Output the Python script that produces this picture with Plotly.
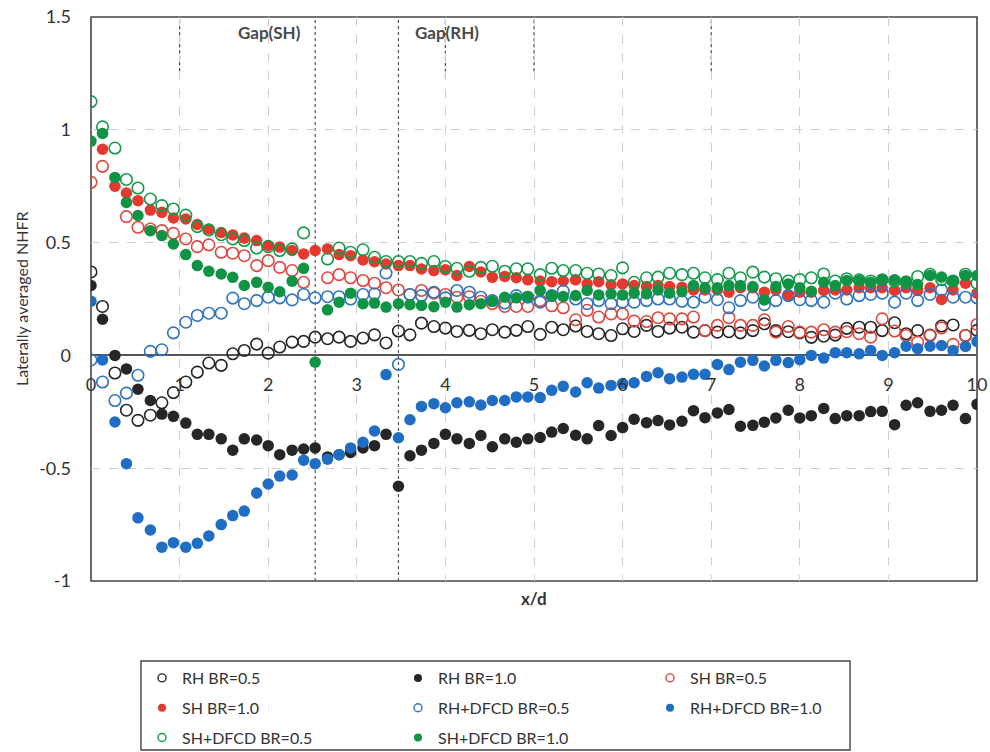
import plotly.graph_objects as go

# x/d stations (76 points, step ~0.133)
X = [0.0, 0.13, 0.27, 0.4, 0.53, 0.67, 0.8, 0.93, 1.07, 1.2, 1.33, 1.47, 1.6, 1.73, 1.87, 2.0,
     2.13, 2.27, 2.4, 2.53, 2.67, 2.8, 2.93, 3.07, 3.2, 3.33, 3.47, 3.6, 3.73, 3.87, 4.0, 4.13,
     4.27, 4.4, 4.53, 4.67, 4.8, 4.93, 5.07, 5.2, 5.33, 5.47, 5.6, 5.73, 5.87, 6.0, 6.13, 6.27,
     6.4, 6.53, 6.67, 6.8, 6.93, 7.07, 7.2, 7.33, 7.47, 7.6, 7.73, 7.87, 8.0, 8.13, 8.27, 8.4,
     8.53, 8.67, 8.8, 8.93, 9.07, 9.2, 9.33, 9.47, 9.6, 9.73, 9.87, 10.0]

RH_05 = [0.37, 0.217, -0.078, -0.243, -0.288, -0.265, -0.21, -0.165, -0.118, -0.074, -0.034, -0.044,
         0.007, 0.022, 0.05, 0.01, 0.037, 0.059, 0.062, 0.081, 0.074, 0.081, 0.062, 0.077, 0.091, 0.055,
         0.108, 0.091, 0.143, 0.128, 0.121, 0.106, 0.111, 0.096, 0.114, 0.103, 0.111, 0.128, 0.093, 0.125,
         0.114, 0.13, 0.106, 0.096, 0.088, 0.118, 0.106, 0.133, 0.106, 0.121, 0.125, 0.103, 0.11, 0.103,
         0.105, 0.1, 0.11, 0.14, 0.11, 0.105, 0.1, 0.08, 0.085, 0.09, 0.12, 0.125, 0.125, 0.11, 0.145,
         0.096, 0.11, 0.09, 0.13, 0.135, 0.088, 0.111]

RH_10 = [0.31, 0.16, 0.0, -0.06, -0.15, -0.2, -0.26, -0.27, -0.3, -0.35, -0.35, -0.37, -0.42, -0.37,
         -0.375, -0.4, -0.44, -0.42, -0.415, -0.41, -0.45, -0.44, -0.43, -0.41, -0.4, -0.35, -0.58, -0.445,
         -0.42, -0.39, -0.35, -0.37, -0.39, -0.355, -0.405, -0.37, -0.385, -0.37, -0.364, -0.34, -0.324,
         -0.354, -0.37, -0.311, -0.355, -0.32, -0.283, -0.298, -0.289, -0.308, -0.292, -0.245, -0.276,
         -0.255, -0.24, -0.314, -0.31, -0.296, -0.277, -0.243, -0.277, -0.267, -0.235, -0.28, -0.267,
         -0.267, -0.249, -0.248, -0.307, -0.221, -0.21, -0.248, -0.243, -0.221, -0.28, -0.217]

SH_05 = [0.767, 0.838, None, 0.615, 0.568, 0.56, 0.553, 0.541, 0.516, 0.482, 0.49, 0.457, 0.453, 0.442,
         0.398, 0.42, 0.39, 0.376, 0.324, None, 0.344, 0.358, 0.344, 0.332, 0.32, 0.3, 0.29, 0.27, 0.288,
         0.276, 0.27, 0.258, 0.26, 0.24, 0.23, 0.217, 0.217, 0.217, 0.243, 0.22, 0.211, 0.158, 0.2, 0.17,
         0.184, 0.184, 0.152, 0.15, 0.167, 0.162, 0.162, 0.17, 0.11, 0.133, 0.167, 0.133, 0.133, 0.158,
         0.103, 0.128, 0.103, 0.103, 0.114, 0.103, 0.105, 0.096, 0.081, 0.162, 0.108, 0.088, 0.059, 0.088,
         0.122, 0.049, 0.088, 0.137]

SH_10 = [None, 0.914, 0.75, 0.72, 0.686, 0.644, 0.634, 0.609, 0.605, 0.58, 0.56, 0.545, 0.534, 0.52,
         0.509, 0.487, 0.48, 0.465, 0.45, 0.465, 0.472, 0.447, 0.442, 0.423, 0.415, 0.405, 0.398, 0.398,
         0.383, 0.376, 0.38, 0.354, 0.394, 0.37, 0.346, 0.35, 0.344, 0.335, 0.33, 0.327, 0.33, 0.335,
         0.317, 0.327, 0.313, 0.317, 0.31, 0.305, 0.31, 0.305, 0.302, 0.29, 0.29, 0.29, 0.28, 0.3, 0.3,
         0.28, 0.29, 0.268, 0.28, 0.28, 0.288, 0.29, 0.29, 0.3, 0.3, 0.3, 0.288, 0.3, 0.288, 0.3, 0.248,
         0.29, 0.32, 0.276]

RHD_05 = [-0.02, -0.118, -0.2, -0.167, -0.088, 0.018, 0.025, 0.1, 0.147, 0.177, 0.187, 0.187, 0.254,
          0.229, 0.243, 0.258, 0.255, 0.246, 0.27, 0.255, 0.26, 0.26, 0.25, 0.27, 0.273, 0.365, -0.04,
          0.27, 0.265, 0.28, 0.255, 0.288, 0.28, 0.258, 0.243, 0.232, 0.265, 0.258, 0.236, 0.265, 0.285,
          0.25, 0.229, 0.243, 0.229, 0.236, 0.236, 0.243, 0.25, 0.25, 0.24, 0.236, 0.258, 0.247, 0.211,
          0.243, 0.258, 0.225, 0.243, 0.265, 0.247, 0.243, 0.236, 0.276, 0.25, 0.265, 0.27, 0.276, 0.236,
          0.276, 0.243, 0.27, 0.29, 0.258, 0.258, 0.255]

RHD_10 = [0.24, -0.02, -0.295, -0.48, -0.72, -0.774, -0.85, -0.83, -0.85, -0.833, -0.8, -0.75, -0.71,
          -0.69, -0.61, -0.57, -0.535, -0.53, -0.465, -0.48, -0.46, -0.44, -0.41, -0.385, -0.335, -0.085,
          -0.365, -0.285, -0.226, -0.214, -0.232, -0.21, -0.206, -0.22, -0.2, -0.2, -0.184, -0.184, -0.187,
          -0.155, -0.137, -0.162, -0.121, -0.145, -0.133, -0.125, -0.121, -0.093, -0.077, -0.103, -0.096,
          -0.084, -0.084, -0.04, -0.063, -0.03, -0.022, -0.047, -0.022, -0.032, -0.019, 0.0, -0.012, 0.012,
          0.012, 0.007, 0.022, 0.0, 0.012, 0.041, 0.03, 0.041, 0.044, 0.022, 0.04, 0.062]

SHD_05 = [1.125, 1.013, 0.919, 0.78, 0.742, 0.693, 0.664, 0.649, 0.622, 0.571, 0.556, 0.535, 0.516, 0.509,
          0.476, 0.482, 0.465, 0.472, 0.543, None, 0.427, 0.476, 0.457, 0.468, 0.435, 0.416, 0.416, 0.416,
          0.408, 0.416, 0.394, 0.386, 0.373, 0.39, 0.395, 0.373, 0.384, 0.384, 0.358, 0.386, 0.376, 0.376,
          0.364, 0.361, 0.354, 0.388, 0.324, 0.344, 0.347, 0.364, 0.358, 0.364, 0.344, 0.336, 0.364, 0.344,
          0.369, 0.347, 0.34, 0.33, 0.336, 0.344, 0.361, 0.33, 0.34, 0.335, 0.33, 0.335, 0.33, 0.325, 0.35,
          0.36, 0.336, 0.33, 0.36, 0.32]

SHD_10 = [0.95, 0.984, 0.789, 0.678, 0.62, 0.553, 0.531, 0.494, 0.447, 0.398, 0.373, 0.361, 0.346, 0.31,
          0.324, 0.302, 0.282, 0.329, 0.386, -0.03, 0.202, 0.236, 0.276, 0.229, 0.232, 0.214, 0.229, 0.225,
          0.221, 0.216, 0.236, 0.214, 0.225, 0.229, 0.24, 0.258, 0.255, 0.261, 0.288, 0.265, 0.261, 0.265,
          0.288, 0.268, 0.273, 0.268, 0.276, 0.273, 0.29, 0.276, 0.282, 0.31, 0.3, 0.3, 0.31, 0.31, 0.305,
          0.246, 0.305, 0.317, 0.3, 0.284, 0.324, 0.31, 0.332, 0.332, 0.324, 0.335, 0.335, 0.329, 0.314,
          0.354, 0.347, 0.329, 0.354, 0.354]

X_TICKS = [0, 1, 2, 3, 4, 5, 6, 7, 8, 9, 10]
Y_TICKS = [-1, -0.5, 0, 0.5, 1, 1.5]
Y_TICK_TEXT = ["-1", "-0.5", "0", "0.5", "1", "1.5"]
GAP_LINES = [2.53, 3.47]
TOP_MARKS = [(1, 1.26), (4, 1.23), (5, 1.26), (7, 1.26)]

FONT = "Lato, 'Open Sans', sans-serif"

series = [
    ("RH BR=0.5", RH_05, "circle-open", "#262626", "legend"),
    ("RH BR=1.0", RH_10, "circle", "#262626", "legend2"),
    ("SH BR=0.5", SH_05, "circle-open", "#e0463c", "legend3"),
    ("SH BR=1.0", SH_10, "circle", "#e5392f", "legend"),
    ("RH+DFCD BR=0.5", RHD_05, "circle-open", "#2e74bf", "legend2"),
    ("RH+DFCD BR=1.0", RHD_10, "circle", "#1f6ec4", "legend3"),
    ("SH+DFCD BR=0.5", SHD_05, "circle-open", "#13994a", "legend"),
    ("SH+DFCD BR=1.0", SHD_10, "circle", "#0f9345", "legend2"),
]

fig = go.Figure()
for name, ys, sym, col, lg in series:
    fig.add_trace(go.Scatter(
        x=X, y=ys, mode="markers", name=name, legendgroup=name, showlegend=False,
        marker=dict(symbol=sym, size=11.5, color=col,
                    line=dict(width=1.6 if "open" in sym else 0, color=col)),
    ))
# legend-only entries (smaller legend symbols, as in the reference)
for name, ys, sym, col, lg in series:
    fig.add_trace(go.Scatter(
        x=[None], y=[None], mode="markers", name=name, legend=lg, legendgroup=name,
        showlegend=True,
        marker=dict(symbol=sym, size=8, color=col,
                    line=dict(width=1.4 if "open" in sym else 0, color=col)),
    ))

for gx in GAP_LINES:
    fig.add_shape(type="line", xref="x", yref="paper", x0=gx, x1=gx, y0=0, y1=1,
                  line=dict(color="#555555", width=1.2, dash="dot"), layer="below")
for tx, ty in TOP_MARKS:
    fig.add_shape(type="line", xref="x", yref="y", x0=tx, x1=tx, y0=ty, y1=1.5,
                  line=dict(color="#444444", width=1.2, dash="dot"), layer="below")

# plot frame
fig.add_shape(type="rect", xref="paper", yref="paper", x0=0, x1=1, y0=0, y1=1,
              line=dict(color="#454545", width=1.6), layer="below")
# legend frame
fig.add_shape(type="rect", xref="paper", yref="paper", x0=0.0564, x1=0.8567, y0=-0.2996, y1=-0.1418,
              line=dict(color="#454545", width=1.4))

fig.add_annotation(x=2.02, y=1.43, xref="x", yref="y", text="<b>Gap(SH)</b>", showarrow=False,
                   font=dict(family=FONT, size=17, color="#4a4a4a"))
fig.add_annotation(x=4.02, y=1.43, xref="x", yref="y", text="<b>Gap(RH)</b>", showarrow=False,
                   font=dict(family=FONT, size=17, color="#4a4a4a"))
fig.add_annotation(x=0.5, y=-0.008, xref="paper", yref="paper", yanchor="top", text="<b>x/d</b>",
                   showarrow=False, font=dict(family=FONT, size=17, color="#333333"))
fig.add_annotation(x=-0.079, y=0.5, xref="paper", yref="paper", xanchor="center", yanchor="middle",
                   text="Laterally averaged NHFR", textangle=-90, showarrow=False,
                   font=dict(family=FONT, size=16, color="#333333"))

leg_common = dict(orientation="v", yanchor="top", xanchor="left", bgcolor="rgba(0,0,0,0)",
                  xref="container", yref="container",
                  font=dict(family=FONT, size=16, color="#333333"), tracegroupgap=6,
                  itemsizing="trace")
LEG_TOP = 1 - 661 / 752
fig.update_layout(
    width=990, height=752,
    margin=dict(l=91, r=13, t=17, b=171, autoexpand=False),
    paper_bgcolor="white", plot_bgcolor="white",
    font=dict(family=FONT, color="#333333"),
    showlegend=True,
    legend=dict(x=142 / 990, y=LEG_TOP, **leg_common),
    legend2=dict(x=398 / 990, y=LEG_TOP, **leg_common),
    legend3=dict(x=650 / 990, y=LEG_TOP, **leg_common),
    xaxis=dict(range=[0, 10], anchor="free", position=0.4, tickvals=X_TICKS, automargin=False,
               ticks="", ticklabelstandoff=17, showline=False, zeroline=False,
               showgrid=True, gridcolor="#cfcfcf", griddash="dash", gridwidth=1,
               tickfont=dict(family=FONT, size=18, color="#333333")),
    yaxis=dict(range=[-1, 1.5], tickvals=Y_TICKS, ticktext=Y_TICK_TEXT, ticks="", automargin=False,
               ticklabelstandoff=19, showline=False, showgrid=True, gridcolor="#cfcfcf",
               griddash="dash", gridwidth=1, zeroline=True, zerolinecolor="#555555",
               zerolinewidth=1.6, tickfont=dict(family=FONT, size=18, color="#333333")),
)

fig.write_html("out.html")
